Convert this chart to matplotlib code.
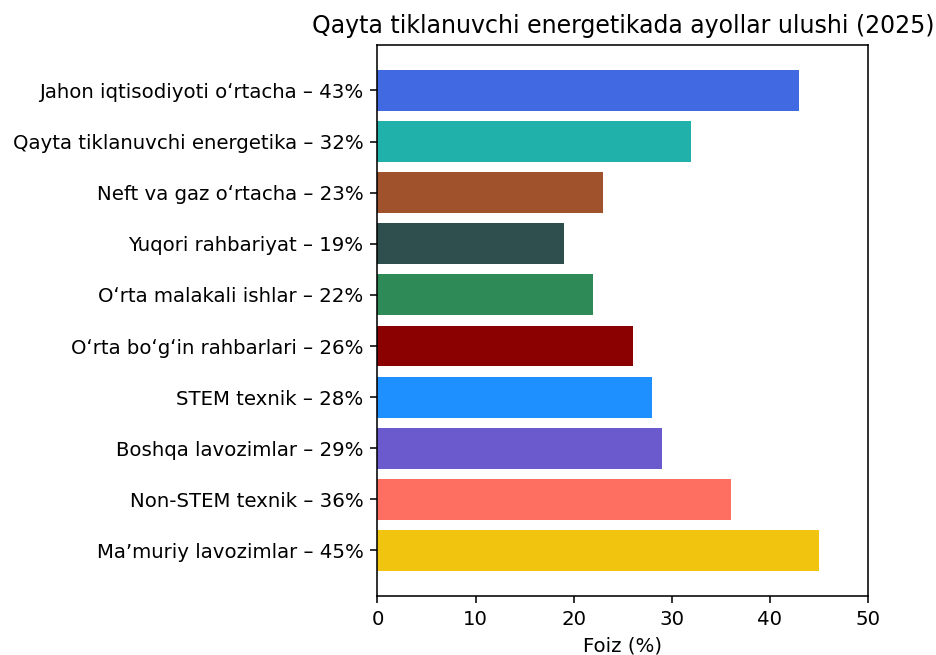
import matplotlib
matplotlib.use("Agg")
import matplotlib.pyplot as plt

# data (top to bottom as shown)
categories = [
    "Jahon iqtisodiyoti o\u02bbrtacha",
    "Qayta tiklanuvchi energetika",
    "Neft va gaz o\u02bbrtacha",
    "Yuqori rahbariyat",
    "O\u02bbrta malakali ishlar",
    "O\u02bbrta bo\u02bbg\u02bbin rahbarlari",
    "STEM texnik",
    "Boshqa lavozimlar",
    "Non-STEM texnik",
    "Ma\u2019muriy lavozimlar",
]
values = [43, 32, 23, 19, 22, 26, 28, 29, 36, 45]
colors = ["#4169E1", "#20B2AA", "#A0522D", "#2F4F4F", "#2E8B57",
          "#8B0000", "#1E90FF", "#6A5ACD", "#FF6F61", "#F1C40F"]

labels = [f"{c} \u2013 {v}%" for c, v in zip(categories, values)]

# rendered at dpi 142 so default font sizes match the reference
fig = plt.figure(figsize=(936 / 142, 655 / 142), dpi=142)
ax = fig.add_axes([0.4033, 0.0901, 0.5241, 0.8412])
ax.barh(labels, values, color=colors)
ax.invert_yaxis()
ax.set_xlim(0, 50)
ax.set_xlabel("Foiz (%)")
ax.set_title("Qayta tiklanuvchi energetikada ayollar ulushi (2025)")

fig.savefig("out.png", dpi=142)
